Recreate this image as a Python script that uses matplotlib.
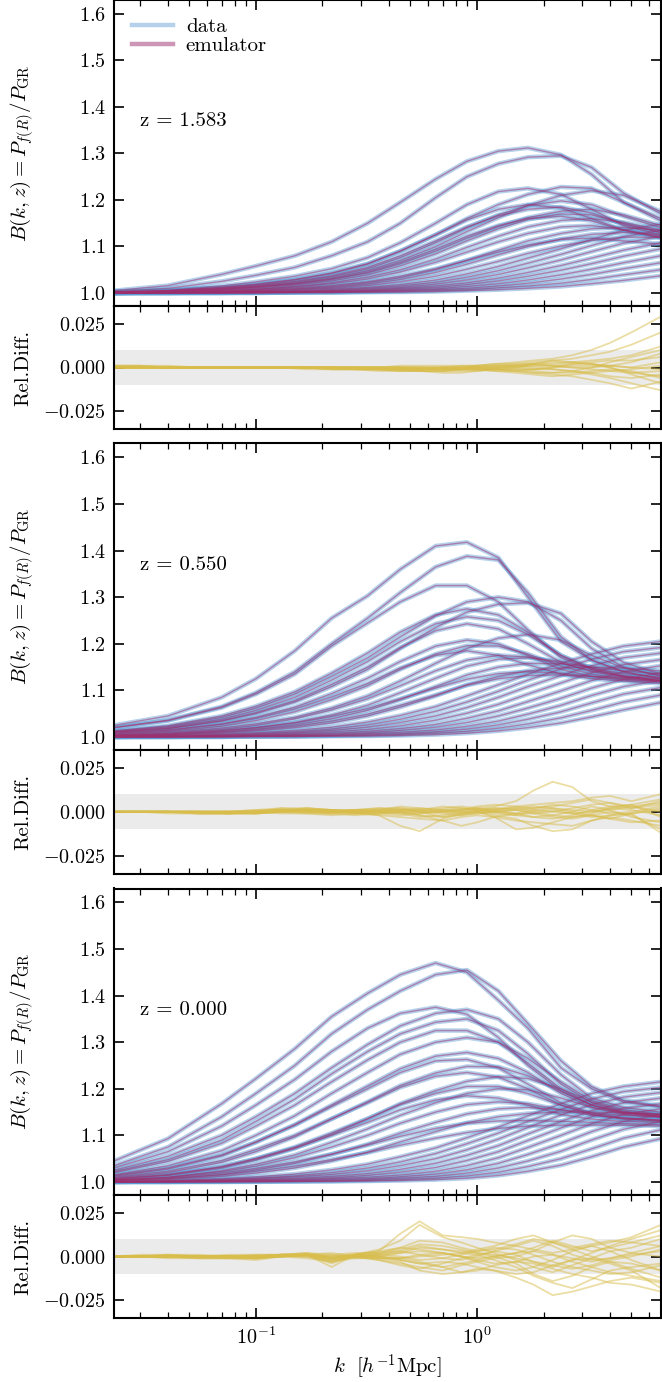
import numpy as np
import matplotlib
matplotlib.use("Agg")
import matplotlib.pyplot as plt
from matplotlib.lines import Line2D
from matplotlib.ticker import MultipleLocator, FixedLocator, FuncFormatter, LogLocator, NullFormatter

plt.rcParams.update({
    'font.family': 'serif',
    'font.serif': ['cmr10'],
    'mathtext.fontset': 'cm',
    'axes.formatter.use_mathtext': True,
    'font.size': 14,
})

# ---------------- data ----------------
redshifts = ["1.583", "0.550", "0.000"]

k_grid = [0.0228, 0.04, 0.07, 0.1, 0.15, 0.22, 0.32, 0.45, 0.65, 0.9, 1.25, 1.7, 2.4, 3.3, 4.6, 6.8]

boost_z1583 = [
    [1.005,1.016,1.040,1.058,1.080,1.110,1.150,1.195,1.245,1.283,1.305,1.312,1.297,1.255,1.195,1.155],
    [1.003,1.010,1.025,1.038,1.055,1.080,1.110,1.150,1.205,1.250,1.278,1.292,1.295,1.270,1.215,1.170],
    [1.002,1.006,1.015,1.024,1.036,1.052,1.076,1.108,1.150,1.190,1.218,1.225,1.212,1.180,1.145,1.125],
    [1.002,1.005,1.012,1.018,1.028,1.042,1.062,1.090,1.125,1.160,1.190,1.212,1.228,1.225,1.195,1.160],
    [1.001,1.004,1.009,1.014,1.021,1.032,1.048,1.070,1.100,1.132,1.162,1.188,1.210,1.220,1.210,1.175],
    [1.002,1.005,1.012,1.019,1.029,1.043,1.063,1.090,1.125,1.157,1.180,1.190,1.183,1.160,1.135,1.120],
    [1.001,1.004,1.010,1.016,1.025,1.037,1.055,1.080,1.112,1.142,1.166,1.180,1.185,1.172,1.148,1.130],
    [1.001,1.003,1.008,1.012,1.019,1.029,1.043,1.063,1.090,1.118,1.143,1.162,1.176,1.180,1.168,1.145],
    [1.001,1.003,1.008,1.013,1.020,1.030,1.045,1.066,1.094,1.122,1.145,1.160,1.165,1.155,1.135,1.118],
    [1.001,1.002,1.006,1.009,1.014,1.022,1.034,1.050,1.073,1.098,1.122,1.142,1.156,1.160,1.152,1.135],
    [1.001,1.002,1.005,1.008,1.013,1.020,1.030,1.045,1.066,1.088,1.110,1.128,1.142,1.145,1.136,1.122],
    [1.000,1.002,1.004,1.006,1.009,1.014,1.022,1.033,1.050,1.070,1.092,1.112,1.128,1.138,1.141,1.135],
    [1.000,1.001,1.003,1.005,1.008,1.012,1.019,1.029,1.044,1.062,1.082,1.100,1.116,1.126,1.130,1.126],
    [1.000,1.001,1.003,1.004,1.007,1.010,1.016,1.024,1.036,1.051,1.068,1.085,1.101,1.113,1.120,1.120],
    [1.000,1.001,1.002,1.003,1.005,1.008,1.012,1.018,1.028,1.041,1.057,1.075,1.095,1.115,1.135,1.148],
    [1.000,1.001,1.002,1.003,1.004,1.006,1.010,1.015,1.023,1.034,1.048,1.064,1.083,1.102,1.121,1.135],
    [1.000,1.000,1.001,1.002,1.003,1.005,1.008,1.012,1.019,1.028,1.040,1.054,1.071,1.089,1.107,1.122],
    [1.000,1.000,1.001,1.002,1.003,1.004,1.006,1.010,1.015,1.022,1.032,1.044,1.059,1.075,1.092,1.108],
    [1.000,1.000,1.001,1.001,1.002,1.003,1.005,1.008,1.012,1.018,1.026,1.036,1.049,1.063,1.079,1.095],
    [1.000,1.000,1.000,1.001,1.002,1.003,1.004,1.006,1.009,1.014,1.020,1.028,1.039,1.051,1.065,1.080],
    [1.000,1.000,1.000,1.001,1.001,1.002,1.003,1.005,1.007,1.010,1.015,1.021,1.030,1.040,1.052,1.065],
    [1.000,1.000,1.000,1.000,1.001,1.001,1.002,1.003,1.005,1.007,1.011,1.015,1.021,1.029,1.039,1.050],
    [1.000,1.000,1.000,1.000,1.001,1.001,1.002,1.002,1.003,1.005,1.007,1.010,1.014,1.020,1.027,1.037],
    [1.000,1.002,1.004,1.007,1.011,1.016,1.024,1.036,1.052,1.070,1.088,1.103,1.115,1.118,1.112,1.105],
    [1.001,1.004,1.010,1.015,1.023,1.035,1.052,1.076,1.108,1.140,1.168,1.188,1.198,1.190,1.165,1.140],
    [1.001,1.003,1.007,1.011,1.017,1.026,1.039,1.058,1.084,1.112,1.138,1.158,1.170,1.168,1.150,1.130],
]

boost_z0550 = [
    [1.025,1.045,1.085,1.125,1.185,1.255,1.303,1.360,1.410,1.418,1.385,1.300,1.205,1.165,1.140,1.125],
    [1.020,1.036,1.065,1.095,1.140,1.200,1.255,1.310,1.365,1.388,1.380,1.310,1.215,1.165,1.140,1.125],
    [1.020,1.035,1.063,1.092,1.135,1.195,1.245,1.290,1.325,1.325,1.290,1.230,1.170,1.145,1.130,1.120],
    [1.012,1.022,1.042,1.062,1.092,1.130,1.170,1.215,1.260,1.290,1.300,1.290,1.250,1.190,1.150,1.130],
    [1.010,1.018,1.034,1.050,1.075,1.108,1.145,1.190,1.235,1.268,1.285,1.288,1.265,1.205,1.160,1.135],
    [1.013,1.024,1.045,1.066,1.097,1.137,1.180,1.225,1.262,1.275,1.262,1.225,1.175,1.145,1.130,1.120],
    [1.011,1.020,1.038,1.057,1.085,1.122,1.162,1.205,1.243,1.258,1.250,1.220,1.175,1.148,1.132,1.122],
    [1.010,1.018,1.035,1.052,1.078,1.113,1.150,1.192,1.228,1.243,1.232,1.200,1.160,1.140,1.128,1.120],
    [1.008,1.015,1.028,1.042,1.064,1.093,1.126,1.162,1.195,1.208,1.200,1.175,1.145,1.130,1.122,1.118],
    [1.006,1.012,1.023,1.035,1.054,1.080,1.110,1.145,1.178,1.196,1.195,1.178,1.152,1.135,1.125,1.120],
    [1.008,1.014,1.027,1.040,1.060,1.086,1.115,1.148,1.175,1.185,1.175,1.155,1.135,1.125,1.120,1.115],
    [1.004,1.008,1.016,1.025,1.039,1.058,1.082,1.110,1.142,1.165,1.175,1.172,1.158,1.142,1.130,1.122],
    [1.003,1.006,1.013,1.020,1.031,1.047,1.068,1.095,1.126,1.152,1.167,1.170,1.162,1.148,1.136,1.128],
    [1.003,1.005,1.011,1.017,1.026,1.039,1.057,1.080,1.108,1.133,1.150,1.158,1.157,1.150,1.142,1.135],
    [1.002,1.004,1.008,1.013,1.020,1.030,1.045,1.064,1.088,1.112,1.130,1.142,1.148,1.150,1.148,1.142],
    [1.001,1.003,1.006,1.009,1.014,1.021,1.032,1.046,1.065,1.088,1.112,1.135,1.158,1.178,1.195,1.205],
    [1.001,1.002,1.004,1.007,1.011,1.017,1.026,1.038,1.055,1.075,1.098,1.122,1.146,1.167,1.183,1.192],
    [1.001,1.002,1.004,1.006,1.009,1.014,1.021,1.031,1.045,1.063,1.085,1.108,1.132,1.153,1.170,1.180],
    [1.000,1.001,1.003,1.004,1.007,1.011,1.016,1.024,1.036,1.051,1.070,1.092,1.116,1.138,1.155,1.166],
    [1.000,1.001,1.002,1.003,1.005,1.008,1.012,1.018,1.027,1.040,1.056,1.076,1.099,1.121,1.140,1.153],
    [1.000,1.001,1.002,1.003,1.004,1.006,1.009,1.014,1.021,1.031,1.045,1.062,1.083,1.105,1.124,1.138],
    [1.000,1.000,1.001,1.002,1.003,1.004,1.007,1.010,1.015,1.023,1.034,1.049,1.068,1.089,1.108,1.122],
    [1.000,1.000,1.001,1.001,1.002,1.003,1.005,1.007,1.011,1.017,1.026,1.038,1.054,1.073,1.092,1.106],
    [1.000,1.000,1.000,1.001,1.001,1.002,1.003,1.005,1.008,1.012,1.019,1.028,1.041,1.057,1.075,1.090],
    [1.000,1.000,1.000,1.001,1.001,1.002,1.002,1.003,1.005,1.008,1.013,1.020,1.030,1.043,1.058,1.074],
    [1.005,1.010,1.019,1.028,1.042,1.062,1.088,1.120,1.158,1.190,1.212,1.220,1.208,1.175,1.148,1.132],
    [1.004,1.007,1.014,1.020,1.030,1.044,1.061,1.082,1.105,1.124,1.136,1.140,1.137,1.130,1.124,1.120],
    [1.002,1.005,1.010,1.015,1.023,1.034,1.049,1.068,1.090,1.111,1.125,1.132,1.133,1.130,1.128,1.126],
]

boost_z0000 = [
    [1.045,1.093,1.168,1.222,1.286,1.355,1.405,1.445,1.470,1.450,1.390,1.330,1.245,1.200,1.172,1.161],
    [1.035,1.075,1.140,1.190,1.250,1.318,1.370,1.410,1.445,1.455,1.410,1.340,1.260,1.205,1.175,1.162],
    [1.030,1.065,1.120,1.165,1.220,1.280,1.330,1.362,1.375,1.360,1.310,1.250,1.195,1.165,1.150,1.145],
    [1.025,1.055,1.100,1.140,1.190,1.245,1.295,1.335,1.362,1.370,1.350,1.300,1.230,1.180,1.160,1.150],
    [1.022,1.048,1.090,1.130,1.178,1.232,1.280,1.318,1.343,1.350,1.325,1.275,1.210,1.170,1.150,1.143],
    [1.020,1.044,1.083,1.120,1.165,1.215,1.262,1.300,1.325,1.325,1.300,1.255,1.200,1.165,1.148,1.140],
    [1.015,1.035,1.067,1.100,1.142,1.190,1.235,1.274,1.300,1.310,1.300,1.265,1.215,1.175,1.155,1.145],
    [1.012,1.028,1.056,1.085,1.123,1.165,1.206,1.243,1.270,1.278,1.265,1.235,1.190,1.160,1.145,1.138],
    [1.014,1.030,1.058,1.086,1.122,1.162,1.200,1.235,1.260,1.263,1.245,1.210,1.170,1.148,1.138,1.132],
    [1.008,1.020,1.042,1.065,1.097,1.135,1.172,1.207,1.234,1.248,1.247,1.228,1.195,1.165,1.148,1.140],
    [1.010,1.023,1.046,1.070,1.100,1.136,1.170,1.203,1.227,1.235,1.225,1.200,1.165,1.145,1.135,1.130],
    [1.006,1.015,1.032,1.050,1.075,1.105,1.136,1.166,1.190,1.205,1.205,1.190,1.165,1.145,1.136,1.132],
    [1.004,1.010,1.024,1.038,1.058,1.085,1.114,1.143,1.170,1.190,1.200,1.198,1.180,1.160,1.148,1.142],
    [1.007,1.016,1.033,1.050,1.073,1.100,1.128,1.155,1.176,1.185,1.180,1.165,1.145,1.135,1.130,1.128],
    [1.004,1.010,1.022,1.034,1.052,1.075,1.100,1.126,1.150,1.166,1.172,1.168,1.155,1.143,1.137,1.133],
    [1.003,1.007,1.016,1.026,1.040,1.059,1.081,1.105,1.128,1.146,1.157,1.160,1.155,1.148,1.143,1.140],
    [1.002,1.005,1.012,1.019,1.030,1.045,1.064,1.086,1.108,1.127,1.140,1.147,1.150,1.150,1.148,1.146],
    [1.001,1.003,1.007,1.011,1.017,1.026,1.038,1.054,1.073,1.095,1.118,1.142,1.168,1.190,1.205,1.215],
    [1.001,1.002,1.005,1.008,1.013,1.020,1.030,1.043,1.061,1.082,1.105,1.130,1.156,1.178,1.194,1.203],
    [1.001,1.002,1.004,1.007,1.011,1.016,1.024,1.035,1.050,1.069,1.092,1.117,1.144,1.166,1.182,1.192],
    [1.000,1.001,1.003,1.005,1.008,1.012,1.018,1.027,1.040,1.057,1.078,1.103,1.130,1.153,1.170,1.180],
    [1.000,1.001,1.002,1.004,1.006,1.009,1.014,1.021,1.031,1.046,1.065,1.089,1.116,1.140,1.158,1.168],
    [1.000,1.001,1.002,1.003,1.004,1.007,1.010,1.015,1.023,1.035,1.052,1.074,1.100,1.125,1.145,1.157],
    [1.000,1.000,1.001,1.002,1.003,1.005,1.007,1.011,1.017,1.026,1.040,1.059,1.083,1.108,1.130,1.145],
    [1.000,1.000,1.001,1.001,1.002,1.003,1.005,1.008,1.012,1.019,1.030,1.045,1.066,1.090,1.113,1.130],
    [1.000,1.000,1.000,1.001,1.001,1.002,1.003,1.005,1.008,1.013,1.021,1.033,1.050,1.071,1.094,1.112],
    [1.000,1.000,1.000,1.000,1.001,1.001,1.002,1.003,1.005,1.008,1.014,1.023,1.036,1.054,1.075,1.093],
    [1.003,1.007,1.015,1.023,1.034,1.048,1.063,1.079,1.094,1.106,1.115,1.120,1.122,1.122,1.122,1.120],
    [1.004,1.009,1.019,1.029,1.043,1.060,1.079,1.098,1.115,1.126,1.131,1.132,1.130,1.128,1.125,1.123],
    [1.006,1.014,1.030,1.047,1.072,1.102,1.135,1.168,1.196,1.216,1.226,1.222,1.200,1.172,1.152,1.140],
]

# relative difference, in units of 1e-3
k_rel = [0.0228, 0.03, 0.04, 0.055, 0.075, 0.1, 0.13, 0.17, 0.22, 0.28, 0.36, 0.45, 0.55,
         0.7, 0.85, 1.0, 1.2, 1.5, 1.8, 2.2, 2.7, 3.3, 4.0, 5.0, 6.8]

reldiff_z1583_milli = [
    [0,0,0,0,0,0,0,0,-1,-1,-1,-1,-1,0,0,1,2,3,4,5,7,10,14,20,29],
    [0,0,0,0,0,0,0,0,0,0,-1,-1,-1,0,1,1,2,2,3,4,5,7,9,13,20],
    [0,0,0,0,0,0,0,-1,-1,-1,-2,-2,-2,-2,-1,-1,-1,-2,-3,-4,-5,-7,-9,-12,-8],
    [1,1,1,0,0,0,0,0,0,0,0,0,-1,-1,-1,0,0,1,2,3,3,2,1,0,3],
    [1,1,0,0,0,0,0,0,0,-1,-1,-2,-2,-3,-3,-2,-1,0,2,4,3,2,0,-3,-5],
    [0,0,0,0,0,0,0,0,0,0,0,0,0,-1,-1,-1,-2,-3,-4,-5,-4,-3,-2,-1,1],
    [0,0,0,0,0,0,0,0,0,0,0,1,1,1,1,1,1,2,2,1,0,-1,-2,-3,-2],
    [0,0,0,0,0,0,0,0,0,0,-1,-1,-2,-2,-2,-2,-1,-1,-2,-3,-2,0,3,6,10],
    [0,0,0,0,0,0,0,0,0,0,0,0,0,0,0,1,1,1,0,-1,-2,-3,-5,-6,-4],
    [0,0,0,0,0,0,0,0,0,0,0,-1,-1,-1,0,0,1,1,2,2,3,4,5,7,12],
    [0,0,0,0,0,0,0,0,0,0,0,0,0,0,0,0,-1,-1,-1,0,1,1,1,0,-1],
    [0,0,0,0,0,0,0,0,-1,-1,-1,-1,-1,-1,-1,-1,-1,-2,-3,-3,-3,-2,-1,-2,-6],
    [0,0,0,0,0,0,0,0,0,-1,-1,-1,-1,-1,-1,0,0,0,1,1,2,3,4,4,6],
    [0,0,0,0,0,0,0,0,0,0,0,0,-1,-1,-1,-1,-2,-2,-1,0,2,2,0,-4,-9],
    [1,1,0,0,0,0,0,0,0,0,0,0,0,0,0,0,0,1,1,1,0,0,1,3,8],
    [0,0,0,0,0,0,0,0,-1,-1,-1,-2,-2,-2,-1,-1,0,0,-1,-1,-2,-4,-6,-9,-13],
]

reldiff_z0550_milli = [
    [0,0,0,0,-1,0,1,1,0,1,0,0,-1,0,1,2,3,6,12,17,14,6,3,2,4],
    [0,0,0,0,0,-1,0,2,1,0,-2,-8,-11,-4,-1,0,-3,-10,-9,-6,-3,-2,-4,-6,-5],
    [0,0,0,-1,-1,0,1,0,-1,1,1,2,0,-3,-1,0,-2,-4,-8,-11,-10,-5,-2,-1,2],
    [0,0,0,0,0,0,2,1,1,0,1,3,2,1,1,2,1,3,4,5,6,8,9,6,10],
    [0,0,-1,-1,-1,-1,0,1,1,-1,0,-1,-3,-2,0,1,2,1,0,-2,-3,-1,2,4,-3],
    [0,0,0,0,0,1,2,2,1,0,-1,0,1,3,2,1,0,-1,-1,0,2,4,5,3,0],
    [0,0,0,0,0,0,1,1,0,-1,-2,-3,-4,-5,-3,-2,-3,-5,-6,-7,-8,-5,-3,-5,-8],
    [0,0,0,0,0,0,0,1,1,1,2,1,0,0,1,3,4,3,2,3,5,7,5,2,6],
    [0,0,0,0,0,0,-1,-1,-2,-1,0,1,0,-1,-2,-1,0,1,-1,-3,-4,-2,0,-2,-10],
    [0,0,0,0,0,1,1,0,0,1,0,-1,0,2,3,2,0,-2,-3,-4,-2,1,3,4,7],
    [0,0,0,-1,-1,-1,0,0,-1,-2,-1,0,-2,-5,-8,-6,-3,-1,1,2,0,-2,-4,-1,-12],
    [0,0,0,0,0,0,0,0,0,0,1,1,1,0,0,0,1,2,3,2,1,0,1,3,5],
    [0,0,0,0,0,0,1,1,0,0,0,1,2,1,0,1,2,2,1,0,-1,0,2,1,-2],
    [0,0,0,-1,-1,0,0,-1,-1,0,1,0,-2,-3,-2,0,1,-1,-3,-2,0,3,1,-3,-6],
    [0,0,0,0,0,0,1,2,1,1,2,2,1,0,-1,-1,0,1,2,4,3,1,-1,0,3],
    [0,0,0,0,-1,-1,0,0,0,-1,-1,-2,-1,1,2,1,-1,-2,0,1,-1,-3,-2,-1,1],
]

reldiff_z0000_milli = [
    [0,1,1,0,-1,-1,1,2,-1,1,3,13,20,12,11,10,8,6,4,2,4,6,8,11,18],
    [0,0,0,-1,-1,0,1,1,-6,1,4,9,18,11,8,5,2,-2,-6,-9,-5,-1,3,5,10],
    [0,0,-1,-1,-1,-2,0,1,2,0,2,4,7,6,4,2,0,-4,-10,-14,-11,-6,-3,-4,-8],
    [0,0,0,0,0,0,1,0,-2,0,-2,-4,-6,-8,-5,-3,-1,0,3,8,12,10,5,2,0],
    [0,0,0,0,0,-1,0,1,-4,1,-1,-3,-8,-10,-9,-7,-8,-12,-16,-22,-20,-17,-14,-12,-15],
    [0,0,0,0,1,1,1,0,1,-1,0,2,5,4,2,1,3,6,9,6,1,-2,-1,1,3],
    [0,0,0,-1,-1,-1,0,1,0,1,0,-2,-4,-3,-4,-6,-8,-10,-9,-5,-2,-1,-4,-8,-18],
    [0,0,0,0,0,0,1,1,-2,1,3,5,4,2,0,-1,0,2,5,9,6,3,5,8,12],
    [0,0,0,0,0,0,0,-1,-3,0,-2,-5,-7,-4,-1,1,-2,-6,-11,-15,-18,-13,-8,-6,-4],
    [0,0,0,0,0,1,1,1,0,1,1,0,-2,-1,1,3,5,4,1,-3,-6,-8,-10,-9,-5],
    [0,0,1,1,0,0,1,2,1,2,2,3,1,-1,-2,0,3,1,-3,-6,-2,2,6,10,15],
    [0,0,0,0,0,-1,0,0,-3,-1,-1,-1,-3,-6,-9,-8,-5,-3,-4,-7,-10,-12,-15,-16,-20],
    [0,0,0,0,0,0,0,1,0,0,1,2,3,2,0,-2,-4,-3,0,1,-1,-3,-1,2,6],
    [0,0,0,0,0,0,1,1,-1,0,0,-1,0,1,2,4,6,10,12,8,4,0,-3,-7,-12],
    [0,0,0,0,0,0,1,1,-2,0,1,3,6,4,3,2,1,-1,-3,-5,-7,-5,-2,0,4],
    [0,0,0,0,0,-1,0,1,-3,0,0,-2,-4,-6,-4,-2,0,2,3,1,-3,-6,-9,-11,-14],
    [0,0,1,0,0,0,1,1,-1,1,2,5,9,8,5,3,4,7,10,8,5,7,9,8,6],
    [0,0,0,0,0,0,0,1,-1,0,-1,-1,1,2,0,-3,-6,-8,-6,-2,3,6,3,-2,-8],
]

boosts = [boost_z1583, boost_z0550, boost_z0000]
reldiffs = [reldiff_z1583_milli, reldiff_z0550_milli, reldiff_z0000_milli]

# ---------------- styling ----------------
DATA_C = '#5b9bd5'
EMU_C = '#9e2f6e'
REL_C = '#d8bd4a'
BAND_C = '#ebebeb'

W, H = 662, 1382
fig = plt.figure(figsize=(W / 100, H / 100), dpi=100)

left = 114 / W
width = (661 - 114) / W
# pixel rows (top, bottom) of each main and relative-diff panel
main_rows = [(0, 306), (443.5, 750), (888.5, 1195)]
rel_rows = [(306, 429), (750, 873.5), (1195, 1318)]

XMIN, XMAX = 0.0228, 6.8
TICK_FS = 14.5
LABEL_FS = 15


def style_axis(ax, bottom_labels=False):
    ax.set_xscale('log')
    ax.set_xlim(XMIN, XMAX)
    ax.xaxis.set_major_locator(LogLocator(base=10, numticks=10))
    ax.xaxis.set_minor_locator(LogLocator(base=10, subs=np.arange(2, 10), numticks=20))
    ax.xaxis.set_minor_formatter(NullFormatter())
    ax.tick_params(which='both', direction='in', top=True, right=True,
                   labelbottom=bottom_labels, labelsize=TICK_FS, pad=6)
    ax.tick_params(which='major', length=7, width=1.2)
    ax.tick_params(which='minor', length=4, width=0.9)
    ax.yaxis.set_tick_params(which='minor', length=0)
    for s in ax.spines.values():
        s.set_linewidth(1.5)


for i in range(3):
    t, b = main_rows[i]
    ax = fig.add_axes([left, 1 - b / H, width, (b - t) / H])
    style_axis(ax)
    for curve in boosts[i]:
        ax.plot(k_grid, curve, color=DATA_C, alpha=0.45, lw=3.2, solid_capstyle='butt')
    for curve in boosts[i]:
        ax.plot(k_grid, curve, color=EMU_C, alpha=0.5, lw=1.0)
    ax.set_ylim(0.972, 1.63)
    ax.yaxis.set_major_locator(MultipleLocator(0.1))
    ax.yaxis.set_major_formatter(FuncFormatter(lambda v, p: r'$%.1f$' % v))
    ax.set_ylabel(r'$B(k,z) = P_{f(R)}/P_{\rm GR}$', fontsize=LABEL_FS)
    ax.yaxis.set_label_coords(-0.142, 0.5)
    ax.text(0.0298, 1.37, 'z = ' + redshifts[i], fontsize=15, va='center', ha='left')
    if i == 0:
        handles = [Line2D([], [], color=DATA_C, alpha=0.45, lw=3.2),
                   Line2D([], [], color=EMU_C, alpha=0.5, lw=3.2)]
        ax.legend(handles, ['data', 'emulator'], loc='upper left', frameon=False,
                  fontsize=15, handlelength=2.0, handletextpad=0.6,
                  borderaxespad=0.55, borderpad=0.3,
                  labelspacing=0.0, bbox_to_anchor=(0.0, 1.0))

    t, b = rel_rows[i]
    axr = fig.add_axes([left, 1 - b / H, width, (b - t) / H])
    style_axis(axr, bottom_labels=(i == 2))
    axr.axhspan(-0.01, 0.01, color=BAND_C, lw=0, zorder=0)
    for curve in reldiffs[i]:
        axr.plot(k_rel, np.array(curve) * 1e-3, color=REL_C, alpha=0.5, lw=1.3)
    axr.set_ylim(-0.035, 0.035)
    axr.yaxis.set_major_locator(FixedLocator([-0.025, 0.0, 0.025]))
    axr.yaxis.set_major_formatter(FuncFormatter(lambda v, p: r'$%.3f$' % v))
    axr.set_ylabel('Rel.Diff.', fontsize=LABEL_FS)
    axr.yaxis.set_label_coords(-0.15, 0.5)
    if i == 2:
        axr.set_xlabel(r'$k\ \ [h^{-1}{\rm Mpc}]$', fontsize=LABEL_FS, labelpad=3)

fig.savefig('out.png', dpi=100)
